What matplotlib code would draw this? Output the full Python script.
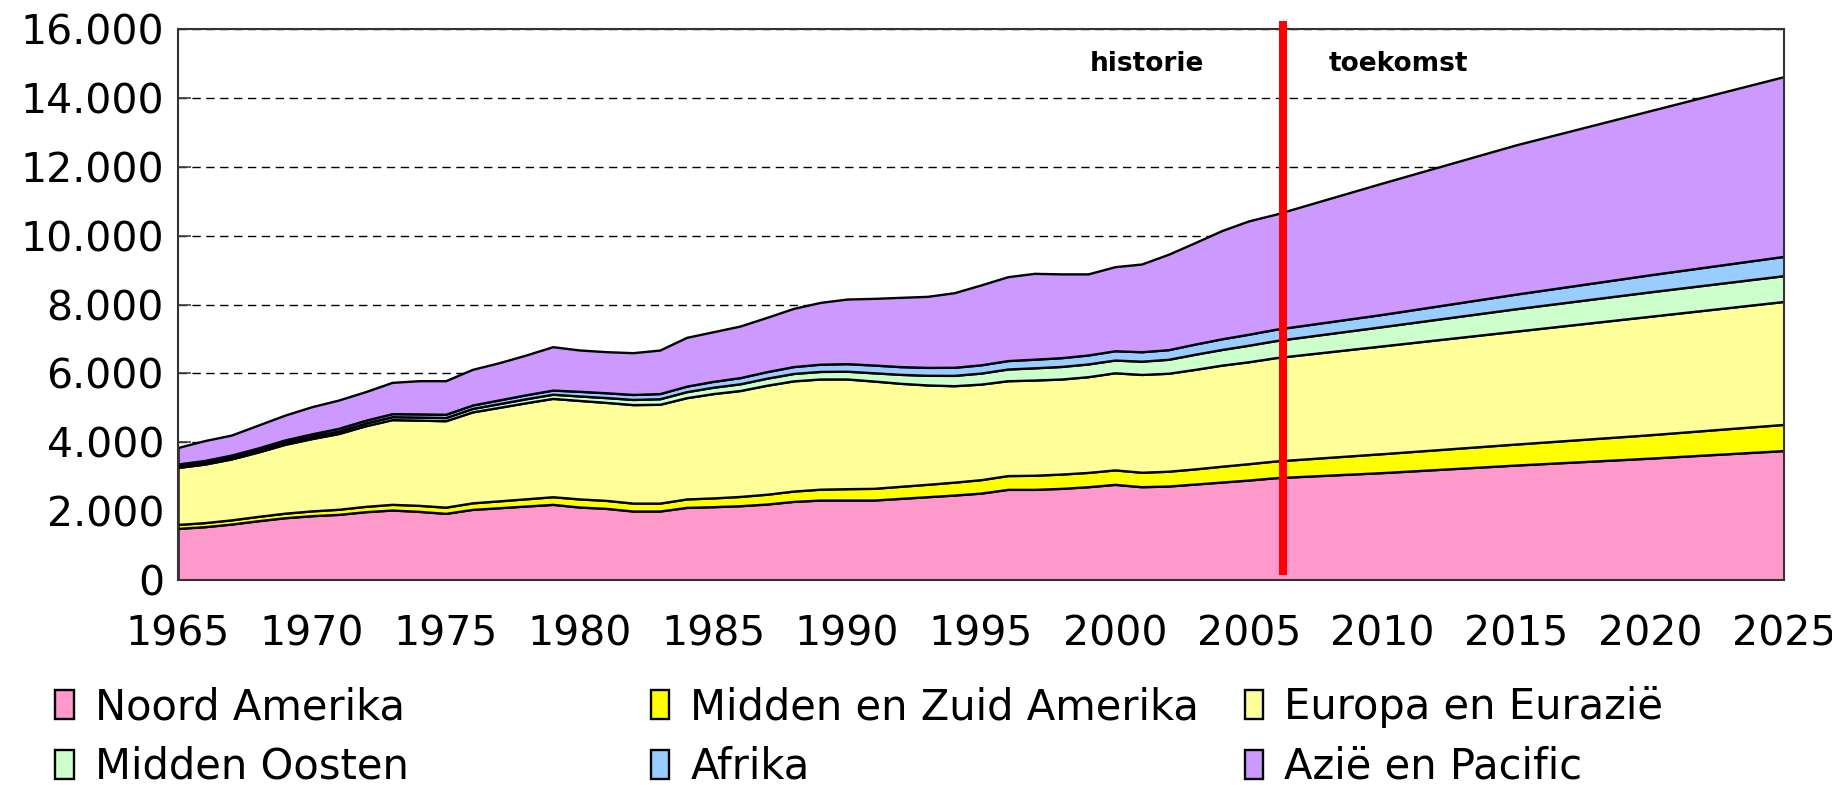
import matplotlib
matplotlib.use("Agg")
import matplotlib.pyplot as plt
from matplotlib.ticker import FuncFormatter

# jaren: historie 1965-2006, daarna prognose
jaren = list(range(1965, 2007)) + [2010, 2015, 2020, 2025]

noord_amerika = [1500, 1549, 1626, 1723, 1810, 1868, 1907, 1984, 2033, 1994,
                 1936, 2052, 2100, 2149, 2197, 2120, 2081, 2004, 2004, 2110,
                 2130, 2158, 2207, 2284, 2323, 2323, 2323, 2372, 2420, 2468,
                 2525, 2633, 2633, 2662, 2710, 2778, 2710, 2730, 2788, 2846,
                 2904, 2972, 3120, 3340, 3540, 3760]
midden_zuid_amerika = [115, 118, 122, 126, 132, 140, 148, 155, 165, 175,
                       180, 190, 200, 210, 222, 235, 232, 230, 230, 245,
                       255, 270, 285, 300, 315, 330, 340, 350, 360, 375,
                       390, 400, 410, 415, 415, 420, 420, 430, 440, 460,
                       475, 485, 550, 610, 680, 760]
europa_eurazie = [1655, 1700, 1770, 1870, 2000, 2100, 2200, 2340, 2460, 2475,
                  2510, 2640, 2715, 2790, 2855, 2860, 2845, 2860, 2870, 2940,
                  3030, 3075, 3165, 3200, 3200, 3185, 3115, 2990, 2885, 2800,
                  2775, 2755, 2765, 2760, 2780, 2820, 2840, 2845, 2890, 2935,
                  2960, 3000, 3130, 3280, 3440, 3570]
midden_oosten = [45, 48, 52, 55, 60, 65, 72, 78, 85, 88,
                 92, 100, 108, 115, 122, 130, 140, 150, 160, 175,
                 185, 195, 205, 215, 220, 225, 240, 260, 280, 300,
                 320, 340, 355, 365, 370, 370, 385, 405, 440, 455,
                 480, 495, 560, 650, 710, 750]
afrika = [55, 58, 60, 63, 68, 72, 78, 82, 88, 92,
          95, 100, 108, 115, 120, 135, 140, 145, 150, 160,
          170, 180, 190, 200, 210, 220, 225, 225, 230, 235,
          240, 245, 250, 255, 260, 270, 275, 280, 295, 310,
          320, 330, 355, 425, 495, 560]
azie_pacific = [480, 577, 581, 664, 721, 789, 822, 830, 909, 965,
                976, 1036, 1080, 1155, 1260, 1200, 1193, 1213, 1265, 1417,
                1441, 1498, 1576, 1690, 1795, 1877, 1936, 2012, 2063, 2166,
                2320, 2436, 2493, 2433, 2355, 2441, 2547, 2770, 2947, 3144,
                3290, 3340, 3815, 4335, 4765, 5220]

labels = ["Noord Amerika", "Midden en Zuid Amerika", "Europa en Eurazië",
          "Midden Oosten", "Afrika", "Azië en Pacific"]
kleuren = ["#FF99CC", "#FFFF00", "#FFFF99", "#CCFFCC", "#99CCFF", "#CC99FF"]

plt.rcParams['font.family'] = ['DejaVu Sans']

fig = plt.figure(figsize=(18.33, 7.85), dpi=100)
ax = fig.add_axes([0.0971, 0.2611, 0.8762, 0.7019])

polys = ax.stackplot(jaren, noord_amerika, midden_zuid_amerika, europa_eurazie,
                     midden_oosten, afrika, azie_pacific,
                     colors=kleuren, edgecolor="black", linewidth=1.7,
                     labels=labels, zorder=2)

ax.set_xlim(1965, 2025)
ax.set_ylim(0, 16000)
ax.set_xticks(range(1965, 2026, 5))
ax.set_yticks(range(0, 16001, 2000))
ax.yaxis.set_major_formatter(FuncFormatter(lambda v, p: f"{int(v):,}".replace(",", ".")))

ax.grid(axis="y", color="black", linestyle=(0, (6, 4)), linewidth=1.0, zorder=0)
ax.set_axisbelow(True)
ax.tick_params(axis="both", direction="in", length=9, width=1.2, color="#444444",
               labelsize=29.5)
ax.tick_params(axis="x", pad=25)
ax.tick_params(axis="y", pad=10)
for s in ax.spines.values():
    s.set_color("#333333")
    s.set_linewidth(1.5)

# scheiding historie / toekomst
ax.plot([2006.3, 2006.3], [150, 16230], color="#FF0000", linewidth=5.8,
        solid_capstyle="butt", clip_on=False, zorder=5)
ax.text(2001.2, 14980, "historie", fontsize=19, fontweight="bold",
        ha="center", va="center", zorder=6)
ax.text(2010.6, 14980, "toekomst", fontsize=19, fontweight="bold",
        ha="center", va="center", zorder=6)

# legenda in drie kolommen, rij voor rij
kolommen = [(0, 3, 0.030), (1, 4, 0.355), (2, 5, 0.679)]
for a, b, x in kolommen:
    leg = fig.legend([polys[a], polys[b]], [labels[a], labels[b]],
                     loc="center left", bbox_to_anchor=(x, 0.061),
                     frameon=False, fontsize=30, handlelength=0.45,
                     handleheight=0.68, handletextpad=0.5, labelspacing=0.42,
                     borderpad=0, borderaxespad=0)

fig.savefig("out.png", dpi=100)
